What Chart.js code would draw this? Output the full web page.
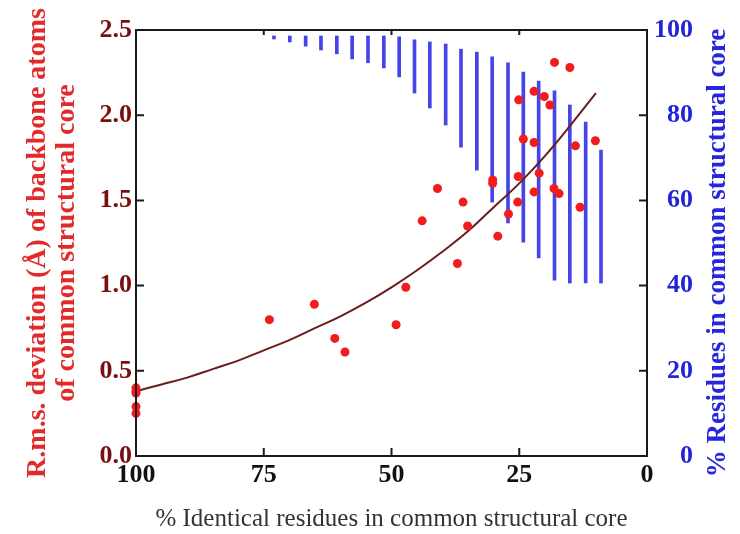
<!DOCTYPE html>
<html>
<head>
<meta charset="utf-8">
<script src="https://cdn.jsdelivr.net/npm/chart.js@4.4.1/dist/chart.umd.min.js"></script>
<style>
  html, body { margin: 0; padding: 0; background: #fff; }
  #wrap { width: 740px; height: 534px; }
</style>
</head>
<body>
<div id="wrap"><canvas id="chart"></canvas></div>
<script>
// Red points: % identical residues vs r.m.s. deviation (A)
const identity = [100, 100, 100, 100, 100, 73.9, 65.1, 61.1, 59.1, 49.1, 47.2, 44.0, 41.0, 37.1, 36.0, 35.1, 30.2, 30.2, 29.2, 27.1, 25.3, 25.2, 25.1, 24.2, 22.1, 22.1, 22.1, 21.1, 20.1, 19.0, 18.2, 18.1, 17.2, 15.1, 14.0, 13.1, 10.1];
const rmsd = [0.40, 0.38, 0.37, 0.29, 0.25, 0.80, 0.89, 0.69, 0.61, 0.77, 0.99, 1.38, 1.57, 1.13, 1.49, 1.35, 1.62, 1.60, 1.29, 1.42, 1.49, 1.64, 2.09, 1.86, 1.55, 1.84, 2.14, 1.66, 2.11, 2.06, 1.57, 2.31, 1.54, 2.28, 1.82, 1.46, 1.85];

// Fitted curve
const fitX = [100, 95, 90, 85, 80, 75, 70, 65, 60, 55, 50, 45, 40, 35, 30, 25, 20, 15, 10];
const fitY = [0.38, 0.42, 0.46, 0.51, 0.56, 0.62, 0.68, 0.75, 0.82, 0.90, 0.99, 1.09, 1.20, 1.32, 1.46, 1.60, 1.76, 1.94, 2.13];

// Blue ranges: % residues in common structural core
const coreX = [73.0, 69.9, 66.8, 63.8, 60.7, 57.7, 54.6, 51.5, 48.5, 45.5, 42.5, 39.4, 36.4, 33.3, 30.3, 27.2, 24.2, 21.2, 18.1, 15.1, 12.0, 9.0];
const coreLow = [97.9, 97.2, 96.2, 95.3, 94.4, 93.2, 92.3, 91.1, 89.0, 85.2, 81.7, 77.7, 72.5, 67.1, 59.6, 54.7, 50.2, 46.5, 41.3, 40.6, 40.6, 40.6];
const coreHigh = [98.6, 98.6, 98.6, 98.6, 98.6, 98.6, 98.6, 98.6, 98.4, 97.7, 97.2, 96.7, 95.5, 94.8, 93.7, 92.3, 90.1, 88.0, 85.7, 82.4, 78.4, 71.8];

const xTicks = [0, 25, 50, 75, 100];

const serif = "'Liberation Serif', 'Times New Roman', serif";

// frame, inward ticks and the right-hand title
const frameAndTicks = {
    id: 'frameAndTicks',
    afterDraw(chart) {
        const ctx = chart.ctx;
        const a = chart.chartArea;
        const x = chart.scales.x, y = chart.scales.y, y2 = chart.scales.y2;
        ctx.save();
        ctx.strokeStyle = '#1a1a1a';
        ctx.lineWidth = 2;
        ctx.strokeRect(a.left, a.top, a.right - a.left, a.bottom - a.top);

        ctx.beginPath();
        y.ticks.forEach(t => {
            if (t.value <= y.min || t.value >= y.max) return;
            const p = y.getPixelForValue(t.value);
            ctx.moveTo(a.left, p); ctx.lineTo(a.left + 8, p);
        });
        y2.ticks.forEach(t => {
            if (t.value <= y2.min || t.value >= y2.max) return;
            const p = y2.getPixelForValue(t.value);
            ctx.moveTo(a.right, p); ctx.lineTo(a.right - 8, p);
        });
        x.ticks.forEach(t => {
            if (t.value <= x.min || t.value >= x.max) return;
            const p = x.getPixelForValue(t.value);
            ctx.moveTo(p, a.bottom); ctx.lineTo(p, a.bottom - 8);
            ctx.moveTo(p, a.top); ctx.lineTo(p, a.top + 5);
        });
        ctx.stroke();

        // right axis title reads bottom to top
        ctx.translate(a.right + 71, (a.top + a.bottom) / 2 + 10);
        ctx.rotate(-Math.PI / 2);
        ctx.fillStyle = '#2626dc';
        ctx.font = 'bold 27px ' + serif;
        ctx.textAlign = 'center';
        ctx.textBaseline = 'middle';
        ctx.fillText('% Residues in common structural core', 0, 0);
        ctx.restore();
    }
};

new Chart(document.getElementById('chart').getContext('2d'), {
    data: {
        datasets: [{
            type: 'scatter',
            data: identity.map((v, i) => ({ x: v, y: rmsd[i] })),
            backgroundColor: '#f21c1c',
            borderWidth: 0,
            pointRadius: 4.5,
            clip: false,
            yAxisID: 'y',
            order: 1
        }, {
            type: 'line',
            data: fitX.map((v, i) => ({ x: v, y: fitY[i] })),
            borderColor: '#6b1d1d',
            borderWidth: 2,
            pointRadius: 0,
            tension: 0.4,
            fill: false,
            yAxisID: 'y',
            order: 2
        }, {
            type: 'bar',
            data: coreX.map((v, i) => ({ x: v, y: [coreLow[i], coreHigh[i]] })),
            backgroundColor: '#4444e8',
            barThickness: 3,
            yAxisID: 'y2',
            order: 3
        }]
    },
    options: {
        responsive: true,
        maintainAspectRatio: false,
        animation: false,
        layout: { padding: { top: 30, left: 0, right: 47, bottom: 0 } },
        plugins: {
            legend: { display: false },
            tooltip: { enabled: false }
        },
        scales: {
            x: {
                type: 'linear',
                reverse: true,
                offset: false,
                min: 0,
                max: 100,
                afterBuildTicks: s => { s.ticks = xTicks.map(v => ({ value: v })); },
                afterFit: s => { s.height = 78; },
                grid: { display: false, drawTicks: false },
                border: { display: false },
                ticks: {
                    color: '#111',
                    padding: 4,
                    font: { family: serif, size: 26, weight: 'bold' }
                },
                title: {
                    display: true,
                    text: '% Identical residues in common structural core',
                    color: '#333',
                    padding: { top: 0, bottom: 0 },
                    font: { family: serif, size: 25 }
                }
            },
            y: {
                position: 'left',
                min: 0,
                max: 2.5,
                afterFit: s => { s.width = 136; },
                grid: { display: false, drawTicks: false },
                border: { display: false },
                ticks: {
                    stepSize: 0.5,
                    color: '#7a0d0d',
                    padding: 4,
                    callback: v => v.toFixed(1),
                    font: { family: serif, size: 26, weight: 'bold' }
                },
                title: {
                    display: true,
                    text: ['R.m.s. deviation (Å) of backbone atoms', 'of common structural core'],
                    color: '#e22a2a',
                    padding: { top: 23, bottom: 0 },
                    font: { family: serif, size: 28, weight: 'bold', lineHeight: 1.05 }
                }
            },
            y2: {
                position: 'right',
                min: 0,
                max: 100,
                afterFit: s => { s.width = 46; },
                grid: { display: false, drawTicks: false },
                border: { display: false },
                ticks: {
                    stepSize: 20,
                    color: '#2323d8',
                    padding: 10,
                    crossAlign: 'far',
                    font: { family: serif, size: 26, weight: 'bold' }
                }
            }
        }
    },
    plugins: [frameAndTicks]
});
</script>
</body>
</html>
